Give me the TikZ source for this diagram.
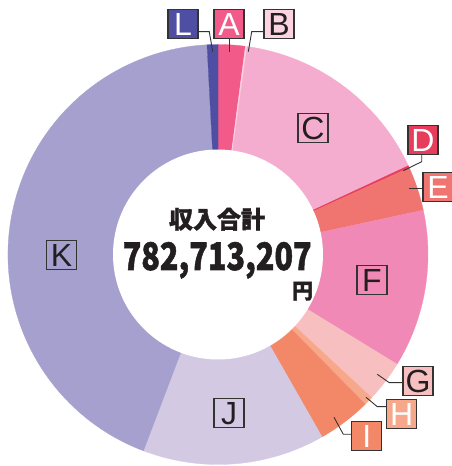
\documentclass[tikz,border=0pt]{standalone}
\usepackage{fontspec}
\setmainfont{Liberation Sans}
\newfontfamily\cjk{Noto Sans CJK JP}[BoldFeatures={FakeBold=1.5}]
\definecolor{cK}{HTML}{A6A0CE}
\definecolor{cL}{HTML}{4E4FA2}
\definecolor{cA}{HTML}{F15A89}
\definecolor{cB}{HTML}{FBD3E1}
\definecolor{cC}{HTML}{F4ADCF}
\definecolor{cD}{HTML}{E73C5B}
\definecolor{cE}{HTML}{F07470}
\definecolor{cF}{HTML}{F189B7}
\definecolor{cG}{HTML}{F8BFC1}
\definecolor{cH}{HTML}{F8A88A}
\definecolor{cI}{HTML}{F38868}
\definecolor{cJ}{HTML}{D3C9E3}
\definecolor{cLine}{HTML}{333333}
\definecolor{cT}{HTML}{231F20}
\begin{document}
\begin{tikzpicture}[x=1pt,y=1pt,
  lbl/.style={draw=cLine, line width=1.1pt, minimum width=30pt, minimum height=29pt,
    inner sep=0pt, font=\fontsize{32}{32}\selectfont, text height=23pt, text depth=0pt},
  leader/.style={draw=cLine, line width=0.9pt}]
\useasboundingbox (0,0) rectangle (452,466);
\coordinate (O) at (218,211.5);
% sectors
\foreach \c/\a/\b in {cA/90/82.5, cB/82.5/82, cC/82/25, cD/25/24.4, cE/24.4/12.2,
  cF/12.2/-31.5, cG/-31.5/-43, cH/-43/-45.5, cI/-45.5/-60.3, cJ/-60.3/-110.8,
  cK/-110.8/-267, cL/-267/-270}{
  \filldraw[fill=\c, draw=\c, line width=0.3pt] (O) -- ++(\a:210pt)
    arc[start angle=\a, end angle=\b, radius=210pt] -- cycle;
}
\fill[white] (O) circle[radius=105pt];
% centre text
\node[font=\cjk\bfseries\fontsize{24}{24}\selectfont, text=cT, inner sep=0pt] (title) at (217,246.8) {収入合計};
\node[anchor=base, text=cT, inner sep=0pt] (total) at (217.2,196) {\resizebox{189pt}{28pt}{\cjk\bfseries 782,713,207}};
\node[font=\cjk\bfseries\fontsize{21}{21}\selectfont, text=cT, inner sep=0pt] (yen) at (302.5,174.8) {円};
% labels
\node[lbl, fill=cL, text=white] (L) at (183,442) {L};
\node[lbl, fill=cA, text=white] (A) at (229,442) {A};
\node[lbl, fill=cB, text=cT] (B) at (279,442) {B};
\node[lbl, text=cT] (C) at (313,338) {C};
\node[lbl, fill=cD, text=white] (D) at (423,326) {D};
\node[lbl, fill=cE, text=white] (E) at (438,279) {E};
\node[lbl, text=cT] (F) at (372,186) {F};
\node[lbl, fill=cG, text=cT] (G) at (418,85) {G};
\node[lbl, fill=cH, text=white] (H) at (401.7,51.7) {H};
\node[lbl, fill=cI, text=white] (I) at (366.7,30) {I};
\node[lbl, text=cT] (J) at (229,53) {J};
\node[lbl, text=cT] (K) at (61.5,211) {K};
% leader points
\coordinate (Lk) at (209.3,434.3); \coordinate (Lt) at (212.7,414.3);
\coordinate (At) at (229,414.3);
\coordinate (Bk) at (251.7,434.3); \coordinate (Bt) at (248.3,414.3);
\coordinate (Dk) at (421.7,304.3); \coordinate (Dt) at (403.3,295.3);
\coordinate (Et) at (409.3,278);
\coordinate (Gk) at (389.3,83.3); \coordinate (Gt) at (377.3,91.7);
\coordinate (Hk) at (377.3,59.3); \coordinate (Ht) at (366,68.7);
\coordinate (Ik) at (343.3,31.7); \coordinate (It) at (334,48.7);
\draw[leader] ([yshift=-7.7pt]L.east) -- (Lk) -- (Lt);
\draw[leader] (A.south) -- (At);
\draw[leader] ([yshift=-7.7pt]B.west) -- (Bk) -- (Bt);
\draw[leader] ([xshift=-1.3pt]D.south) -- (Dk) -- (Dt);
\draw[leader] ([yshift=-1pt]E.west) -- (Et);
\draw[leader] ([yshift=-1.7pt]G.west) -- (Gk) -- (Gt);
\draw[leader] ([yshift=7.6pt]H.west) -- (Hk) -- (Ht);
\draw[leader] ([yshift=1.7pt]I.west) -- (Ik) -- (It);
\end{tikzpicture}
\end{document}
